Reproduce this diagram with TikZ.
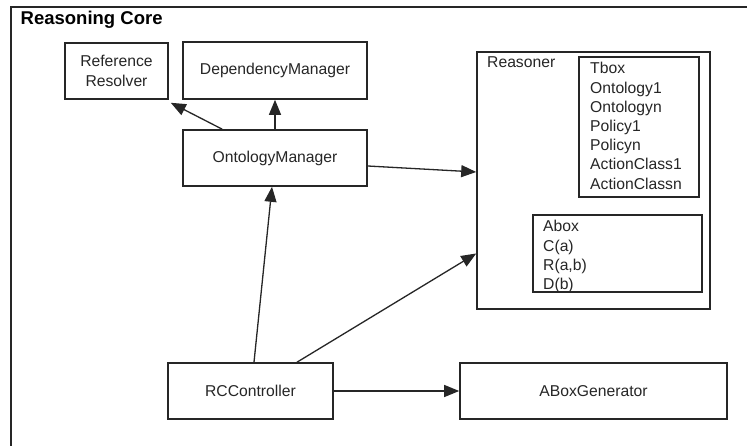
\documentclass[tikz,border=0pt]{standalone}
\usepackage{fontspec}
\setmainfont{Liberation Sans}
\usetikzlibrary{arrows.meta,calc}

\definecolor{ink}{HTML}{262626}

\tikzset{
  box/.style={draw=ink, line width=1.6pt, rectangle, inner sep=0pt, align=center,
              font=\fontsize{15.7}{20}\selectfont, text=ink},
  lbl/.style={inner sep=0pt, anchor=base west, font=\fontsize{15.7}{19}\selectfont, text=ink},
  link/.style={draw=ink, line width=1.3pt, -{Triangle[length=15pt,width=12pt]}},
}

\begin{document}
\begin{tikzpicture}[x=1pt,y=-1pt]
  \useasboundingbox (0,0) rectangle (747,446);
  \fill[white] (0,0) rectangle (747,446);

  % open frame of the core: top and left sides only
  \draw[ink, line width=1.6pt] (11,446) -- (11,7) -- (747,7);
  \node[inner sep=0pt, anchor=base west, font=\bfseries\fontsize{18.5}{20}\selectfont, text=black]
    (title) at (20.5,25) {Reasoning Core};

  % components
  \node[box, minimum width=103pt, minimum height=56pt] (rr)  at (116.5,71)  {Reference\\Resolver};
  \node[box, minimum width=184pt, minimum height=57pt] (dm)  at (275,70.5)  {DependencyManager};
  \node[box, minimum width=184pt, minimum height=56pt] (om)  at (275,158)   {OntologyManager};
  \node[box, minimum width=165pt, minimum height=56pt] (rc)  at (250.5,391) {RCController};
  \node[box, minimum width=267pt, minimum height=56pt] (abg) at (593.5,391) {ABoxGenerator};

  % reasoner with its two knowledge bases
  \node[box, minimum width=233pt, minimum height=257pt] (rs)   at (593.5,180.5) {};
  \node[box, minimum width=120pt, minimum height=140pt] (tbox) at (639,127)     {};
  \node[box, minimum width=169pt, minimum height=77pt]  (abox) at (617.5,253.5) {};
  \node[lbl] (rsname) at (487,68) {Reasoner};

  \foreach \t [count=\i from 0] in {Tbox,Ontology1,Ontologyn,Policy1,Policyn,ActionClass1,ActionClassn}
    \node[lbl] (tb\i) at (590,74+19.2*\i) {\t};
  \foreach \t [count=\i from 0] in {Abox,C(a),{R(a,b)},D(b)}
    \node[lbl] (ab\i) at (543,232+19.2*\i) {\t};

  % connectors
  \draw[link] ($(om.north west)+(40,0)$) -- ($(rr.south east)+(2,3)$);
  \draw[link] (om.north) -- (dm.south);
  \draw[link] ($(om.east)+(0,8)$) -- ($(rs.west)+(0,-8.5)$);
  \draw[link] ($(rc.north)+(3.5,0)$) -- ($(om.south)+(-3,0)$);
  \draw[link] ($(rc.north)+(46.5,0)$) -- (rs.west |- abox.center);
  \draw[link] (rc.east) -- (abg.west);
\end{tikzpicture}
\end{document}
